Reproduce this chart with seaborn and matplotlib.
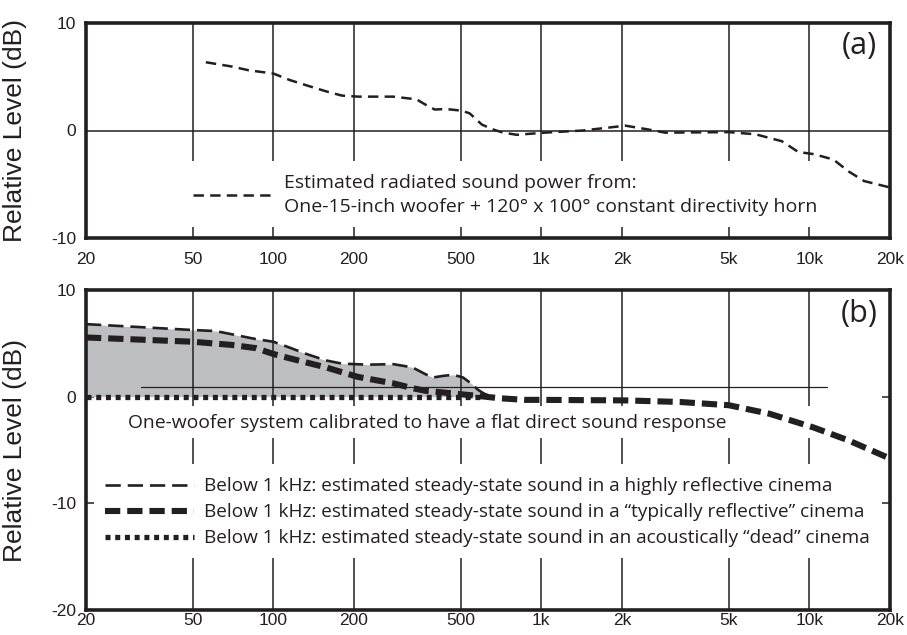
import numpy as np
import pandas as pd
import matplotlib
matplotlib.use("Agg")
import matplotlib.pyplot as plt
import seaborn as sns
from matplotlib.lines import Line2D
from matplotlib.ticker import NullLocator

# ---------------- data ----------------
tick_freqs = [20, 50, 100, 200, 500, 1000, 2000, 5000, 10000, 20000]
tick_labels = ["20", "50", "100", "200", "500", "1k", "2k", "5k", "10k", "20k"]
grid_freqs = [50, 100, 200, 500, 1000, 2000, 5000, 10000]

top_yticks = [-10, 0, 10]
top_ylabels = ["-10", "0", "10"]
bot_yticks = [-20, -10, 0, 10]
bot_ylabels = ["-20", "-10", "0", "10"]

power_freq = [56, 70, 81, 100, 115, 133, 157, 180, 207, 280, 342, 370, 400, 440,
              502, 540, 600, 660, 720, 810, 1030, 1430, 2060, 2500, 2900, 5000,
              6300, 7900, 9100, 10400, 12300, 14000, 16000, 20000]
power_db = [6.35, 5.95, 5.6, 5.3, 4.7, 4.2, 3.65, 3.25, 3.15, 3.15, 2.9, 2.4, 1.95, 2.0,
            1.85, 1.6, 0.55, 0.1, -0.2, -0.4, -0.2, 0.0, 0.45, 0.1, -0.2, -0.15,
            -0.35, -1.0, -2.0, -2.2, -2.7, -3.8, -4.7, -5.3]

high_freq = [20, 50, 61, 70, 86, 100, 115, 133, 157, 180, 225, 280, 330, 370, 395,
             430, 470, 510, 550, 580, 610, 650]
high_db = [6.8, 6.25, 6.15, 5.85, 5.4, 5.15, 4.6, 4.0, 3.4, 3.1, 3.0, 3.05, 2.75, 2.1, 1.8,
           1.95, 2.05, 1.8, 1.2, 0.65, 0.3, 0.0]

typ_freq = [20, 50, 70, 86, 100, 115, 133, 157, 180, 207, 280, 330, 370, 470, 590, 700,
            870, 1000, 2060, 3300, 5000, 7100, 10400, 14000, 20000]
typ_db = [5.55, 5.15, 4.85, 4.55, 4.0, 3.6, 3.2, 2.75, 2.3, 1.85, 1.25, 0.8, 0.55, 0.3, 0.05,
          -0.15, -0.3, -0.3, -0.35, -0.5, -0.8, -1.6, -2.9, -4.1, -5.8]

dead_freq = [20, 600]
dead_db = [0, 0]

ref_freq = [32, 11600]
ref_db = [0.9, 0.9]

label_a = "(a)"
label_b = "(b)"
legend_a = ("Estimated radiated sound power from:\n"
            "One-15-inch woofer + 120\u00b0 x 100\u00b0 constant directivity horn")
note_b = "One-woofer system calibrated to have a flat direct sound response"
legend_b = [
    "Below 1 kHz: estimated steady-state sound in a highly reflective cinema",
    "Below 1 kHz: estimated steady-state sound in a \u201ctypically reflective\u201d cinema",
    "Below 1 kHz: estimated steady-state sound in an acoustically \u201cdead\u201d cinema",
]
ylabel = "Relative Level (dB)"

# ---------------- style ----------------
sns.set_style("white")
plt.rcParams["font.family"] = ["Liberation Sans", "DejaVu Sans"]
plt.rcParams["axes.unicode_minus"] = False
plt.rcParams["lines.scale_dashes"] = False

INK = "#231f20"
GRAY = "#bcbec0"
TXT = ["Open Sans", "DejaVu Sans"]

W, H = 907, 635
fig = plt.figure(figsize=(W / 100, H / 100), dpi=100)
L, R = 86, 890
ax1 = fig.add_axes([L / W, 1 - 238 / H, (R - L) / W, (238 - 23) / H])
ax2 = fig.add_axes([L / W, 1 - 610 / H, (R - L) / W, (610 - 290) / H])

for ax in (ax1, ax2):
    ax.set_xscale("log")
    ax.set_xlim(20, 20000)
    ax.set_xticks(tick_freqs)
    ax.set_xticklabels(tick_labels)
    ax.xaxis.set_minor_locator(NullLocator())
    for s in ax.spines.values():
        s.set_linewidth(2.6)
        s.set_color(INK)
        s.set_visible(True)
    ax.grid(False)
    ax.set_facecolor("white")

# ---------------- panel (a) ----------------
ax1.set_ylim(-10, 10)
ax1.set_yticks(top_yticks)
ax1.set_yticklabels(top_ylabels)
ax1.tick_params(axis="x", length=0, pad=10, labelsize=12.5, colors=INK)
ax1.tick_params(axis="y", length=0, pad=7, labelsize=12.5, colors=INK)
ax1.vlines(grid_freqs, -2.85, 10, color=INK, lw=1.1, zorder=2)
ax1.vlines(grid_freqs, -10, -9.0, color=INK, lw=1.1, zorder=2)
ax1.axhline(0, color=INK, lw=1.1, zorder=2)

dash_a = (0, (7.5, 4.5))
sns.lineplot(x=power_freq, y=power_db, ax=ax1, color=INK, lw=1.8,
             linestyle=dash_a, zorder=3)
hA = Line2D([], [], color=INK, lw=1.8, linestyle=dash_a)
legA = ax1.legend([hA], [legend_a], loc="center left",
                  bbox_to_anchor=((193 - L) / (R - L), 0.2),
                  frameon=False, borderpad=0, borderaxespad=0, handlelength=4.0,
                  handletextpad=0.66, labelspacing=0.0,
                  prop={"family": TXT, "size": 14})
for t in legA.get_texts():
    t.set_linespacing(1.5)
    t.set_color(INK)
ax1.text(0.984, 0.895, label_a, transform=ax1.transAxes, ha="right", va="center",
         fontsize=22, family=TXT, color=INK)
ax1.set_ylabel(ylabel, fontsize=19, color=INK)
ax1.yaxis.set_label_coords(-0.074, 0.5)

# ---------------- panel (b) ----------------
ax2.set_ylim(-20, 10)
ax2.set_yticks(bot_yticks)
ax2.set_yticklabels(bot_ylabels)
ax2.tick_params(axis="x", length=0, pad=2.5, labelsize=12.5, colors=INK)
ax2.tick_params(axis="y", direction="in", length=6, width=1.1, left=True, right=True,
                pad=7, labelsize=12.5, colors=INK)
ax2.vlines(grid_freqs, -0.85, 10, color=INK, lw=1.1, zorder=2)
ax2.vlines(grid_freqs, -6.3, -3.9, color=INK, lw=1.1, zorder=2)
ax2.vlines(grid_freqs, -20, -15.1, color=INK, lw=1.1, zorder=2)

ax2.fill_between(high_freq, high_db, 0, color=GRAY, lw=0, zorder=1)
sns.lineplot(x=ref_freq, y=ref_db, ax=ax2, color=INK, lw=0.9, zorder=2)

dash_hi = (0, (11, 5))
dash_typ = (0, (11, 5))
dot_dead = (0, (3.6, 3.4))
sns.lineplot(x=dead_freq, y=dead_db, ax=ax2, color=INK, lw=3.8, linestyle=dot_dead, zorder=3)
sns.lineplot(x=high_freq, y=high_db, ax=ax2, color=INK, lw=1.9, linestyle=dash_hi, zorder=4)
sns.lineplot(x=typ_freq, y=typ_db, ax=ax2, color=INK, lw=4.4, linestyle=dash_typ, zorder=4)

hB = [Line2D([], [], color=INK, lw=1.9, linestyle=dash_hi),
      Line2D([], [], color=INK, lw=4.4, linestyle=dash_typ),
      Line2D([], [], color=INK, lw=3.8, linestyle=dot_dead)]
legB = ax2.legend(hB, legend_b, loc="center left",
                  bbox_to_anchor=((105 - L) / (R - L), 0.305),
                  frameon=False, borderpad=0, borderaxespad=0, handlelength=4.7,
                  handletextpad=0.5, labelspacing=0.42,
                  prop={"family": TXT, "size": 13.7})
for t in legB.get_texts():
    t.set_color(INK)
ax2.text(0.424, 0.584, note_b, transform=ax2.transAxes, ha="center", va="center",
         fontsize=13.9, family=TXT, color=INK)
ax2.text(0.984, 0.925, label_b, transform=ax2.transAxes, ha="right", va="center",
         fontsize=22, family=TXT, color=INK)
ax2.set_ylabel(ylabel, fontsize=19, color=INK)
ax2.yaxis.set_label_coords(-0.074, 0.5)
ax1.set_xlabel("")
ax2.set_xlabel("")

fig.savefig("out.png", dpi=100)
